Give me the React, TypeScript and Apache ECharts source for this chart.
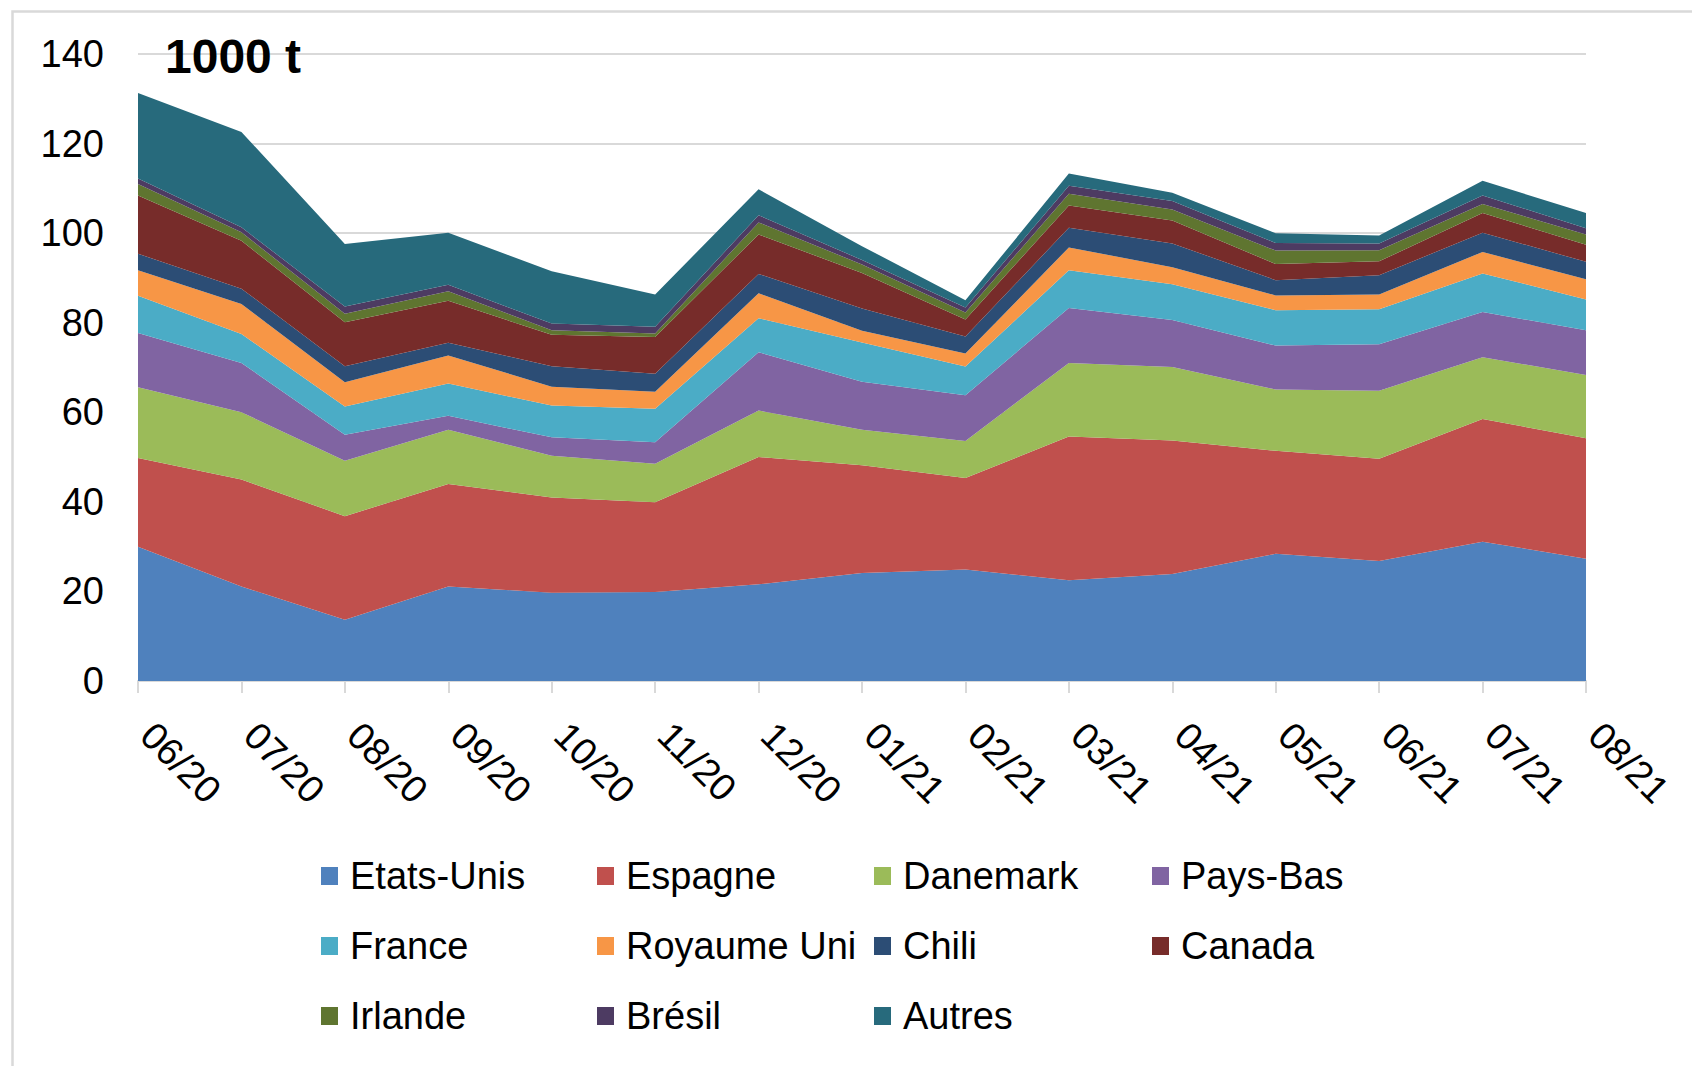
import React, { useEffect, useRef } from "react";
import * as echarts from "echarts";

const months = ["06/20", "07/20", "08/20", "09/20", "10/20", "11/20", "12/20", "01/21", "02/21", "03/21", "04/21", "05/21", "06/21", "07/21", "08/21"];
const yTicks = [0, 20, 40, 60, 80, 100, 120, 140];

const etatsUnis = [30.0, 21.1, 13.7, 21.1, 19.7, 19.9, 21.6, 24.1, 24.9, 22.5, 23.9, 28.4, 26.8, 31.1, 27.3];
const espagne = [19.8, 23.9, 23.1, 22.9, 21.3, 20.0, 28.4, 24.1, 20.4, 32.1, 29.8, 23.0, 22.8, 27.4, 26.9];
const danemark = [15.8, 15.0, 12.4, 12.1, 9.3, 8.6, 10.4, 7.9, 8.3, 16.4, 16.4, 13.7, 15.2, 13.8, 14.1];
const paysBas = [12.1, 11.0, 5.8, 3.1, 4.1, 4.8, 13.0, 10.7, 10.2, 12.3, 10.5, 9.8, 10.4, 10.1, 10.0];
const france = [8.3, 6.5, 6.3, 7.2, 7.1, 7.5, 7.6, 8.8, 6.4, 8.4, 8.0, 7.9, 7.8, 8.6, 6.9];
const royaumeUni = [5.7, 6.7, 5.4, 6.3, 4.2, 3.8, 5.6, 2.6, 2.9, 5.1, 3.8, 3.3, 3.3, 4.8, 4.5];
const chili = [3.7, 3.4, 3.6, 2.8, 4.6, 4.0, 4.3, 5.0, 3.8, 4.4, 5.3, 3.4, 4.3, 4.3, 3.9];
const canada = [13.0, 10.7, 9.8, 9.4, 7.0, 8.2, 8.8, 7.9, 3.8, 5.0, 5.1, 3.6, 3.1, 4.4, 3.8];
const irlande = [2.6, 1.9, 1.9, 2.1, 1.0, 0.8, 2.7, 1.9, 1.6, 2.6, 2.5, 3.0, 2.5, 2.0, 2.3];
const bresil = [1.2, 1.1, 1.6, 1.5, 1.5, 1.5, 1.6, 1.0, 1.1, 1.8, 1.9, 1.7, 1.5, 1.9, 1.4];
const autres = [19.1, 21.3, 14.0, 11.6, 11.7, 7.2, 5.8, 3.1, 1.6, 2.7, 1.8, 2.2, 1.8, 3.3, 3.4];

const seriesNames = ["Etats-Unis", "Espagne", "Danemark", "Pays-Bas", "France", "Royaume Uni", "Chili", "Canada", "Irlande", "Brésil", "Autres"];
const seriesData = [etatsUnis, espagne, danemark, paysBas, france, royaumeUni, chili, canada, irlande, bresil, autres];
const seriesColors = ["#4f81bd", "#c0504d", "#9bbb59", "#8064a2", "#4bacc6", "#f79646", "#2c4d75", "#772c2a", "#5f7530", "#4d3b62", "#276a7c"];

const legendColumns = [
  ["Etats-Unis", "France", "Irlande"],
  ["Espagne", "Royaume Uni", "Brésil"],
  ["Danemark", "Chili", "Autres"],
  ["Pays-Bas", "Canada"],
];
const legendLefts = [321, 597, 874, 1152];

const FONT = "'Liberation Sans', Arial, sans-serif";

export default function App() {
  const ref = useRef<HTMLDivElement>(null);

  useEffect(() => {
    const chart = echarts.init(ref.current!, null, { renderer: "svg" });
    chart.setOption({
      animation: false,
      backgroundColor: "#ffffff",
      textStyle: { fontFamily: FONT },
      grid: { left: 138, right: 106, top: 54, bottom: 385, containLabel: false },
      xAxis: {
        type: "category",
        boundaryGap: false,
        data: months,
        axisLine: { show: true, lineStyle: { color: "#d9d9d9", width: 2 } },
        axisTick: { show: true, length: 12, lineStyle: { color: "#d9d9d9", width: 2 } },
        axisLabel: {
          interval: 0,
          rotate: -45,
          fontSize: 38,
          color: "#000",
          fontFamily: FONT,
          margin: 39,
          padding: [0, 0, 0, 13],
        },
        splitLine: { show: false },
      },
      yAxis: {
        type: "value",
        min: yTicks[0],
        max: yTicks[yTicks.length - 1],
        interval: 20,
        axisLine: { show: false },
        axisTick: { show: false },
        axisLabel: { fontSize: 38, color: "#000", fontFamily: FONT, margin: 34 },
        splitLine: { show: true, lineStyle: { color: "#d9d9d9", width: 2 } },
      },
      legend: legendColumns.map((cols, i) => ({
        data: cols,
        orient: "vertical",
        left: legendLefts[i],
        top: 856,
        padding: 0,
        itemWidth: 17,
        itemHeight: 18,
        itemGap: 30,
        icon: "rect",
        selectedMode: false,
        textStyle: { fontSize: 38, color: "#000", fontFamily: FONT, lineHeight: 40, padding: [0, 0, 0, 7] },
      })),
      graphic: [
        {
          type: "rect",
          left: 10,
          top: 9,
          shape: { width: 1720, height: 1100 },
          style: { fill: "none", stroke: "#d9d9d9", lineWidth: 2.5 },
          silent: true,
          z: -10,
        },
        {
          type: "text",
          left: 165,
          top: 32,
          z: 100,
          style: { text: "1000 t", font: `bold 48px ${FONT}`, fill: "#000" },
        },
      ],
      series: seriesNames.map((name, i) => ({
        name,
        type: "line",
        stack: "total",
        data: seriesData[i],
        color: seriesColors[i],
        showSymbol: false,
        symbol: "none",
        lineStyle: { width: 0, color: seriesColors[i] },
        itemStyle: { color: seriesColors[i] },
        areaStyle: { color: seriesColors[i], opacity: 1 },
        emphasis: { disabled: true },
      })),
    });
    return () => chart.dispose();
  }, []);

  return (
    <div
      ref={ref}
      style={{ position: "fixed", left: 0, top: 0, width: 1692, height: 1066, background: "#fff" }}
    />
  );
}
